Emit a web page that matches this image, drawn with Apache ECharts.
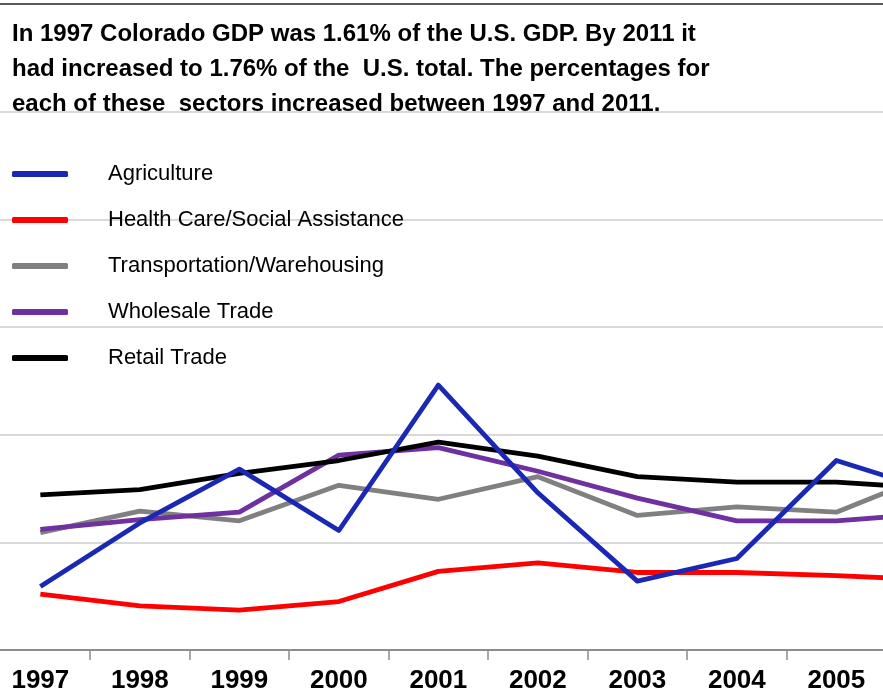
<!DOCTYPE html>
<html>
<head>
<meta charset="utf-8">
<script src="https://cdn.jsdelivr.net/npm/echarts@6/dist/echarts.min.js"></script>
<style>
  html, body { margin: 0; padding: 0; background: #fff; overflow: hidden; }
  body { width: 883px; height: 695px; position: relative; }
  /* the picture is a crop of a wider chart: the canvas starts a little left of the window and runs past its right edge */
  #chart { position: absolute; left: -10px; top: 0; width: 1000px; height: 695px; }
</style>
</head>
<body>
<div id="chart"></div>
<script>
  // years on the category axis (2006 only shows as the segment leaving the right edge)
  const years = ['1997', '1998', '1999', '2000', '2001', '2002', '2003', '2004', '2005', '2006'];

  // Colorado share of U.S. sector GDP (%)
  const agriculture    = [1.259, 1.318, 1.368, 1.311, 1.446, 1.346, 1.264, 1.285, 1.376, 1.347];
  const healthCare     = [1.252, 1.241, 1.237, 1.245, 1.273, 1.281, 1.272, 1.272, 1.269, 1.265];
  const transportation = [1.309, 1.329, 1.320, 1.353, 1.340, 1.361, 1.325, 1.333, 1.328, 1.365];
  const wholesale      = [1.312, 1.321, 1.328, 1.381, 1.388, 1.366, 1.341, 1.320, 1.320, 1.327];
  const retail         = [1.344, 1.349, 1.364, 1.376, 1.393, 1.380, 1.361, 1.356, 1.356, 1.350];

  const titleText = 'In 1997 Colorado GDP was 1.61% of the U.S. GDP. By 2011 it\n' +
    'had increased to 1.76% of the  U.S. total. The percentages for\n' +
    'each of these  sectors increased between 1997 and 2011.';

  const sans = '"Liberation Sans", Arial, sans-serif';

  function lineSeries(name, data, color, z) {
    return {
      name: name,
      type: 'line',
      data: data,
      showSymbol: false,
      z: z,
      lineStyle: { color: color, width: 4.8, join: 'round' },
      itemStyle: { color: color }
    };
  }

  const myChart = echarts.init(document.getElementById('chart'));
  const option = {
    animation: false,
    title: {
      text: titleText,
      left: 22,
      top: 17,
      padding: 0,
      textStyle: {
        fontFamily: sans,
        fontWeight: 'bold',
        fontSize: 24,
        lineHeight: 35,
        color: '#000'
      }
    },
    legend: {
      orient: 'vertical',
      left: 22,
      top: 151,
      padding: 0,
      itemGap: 0,
      itemWidth: 56,
      itemHeight: 6,
      icon: 'roundRect',
      data: ['Agriculture', 'Health Care/Social Assistance', 'Transportation/Warehousing', 'Wholesale Trade', 'Retail Trade'],
      textStyle: {
        fontFamily: sans,
        fontSize: 22,
        lineHeight: 46,
        color: '#000',
        padding: [0, 0, 0, 35]
      }
    },
    grid: {
      left: 0.6,
      right: 4.4,
      top: 4,
      bottom: 45
    },
    xAxis: [
      {
        type: 'category',
        data: years,
        boundaryGap: true,
        axisLine: { lineStyle: { color: '#8c8c8c', width: 2 } },
        axisTick: { show: true, length: 10, lineStyle: { color: '#8c8c8c', width: 1.5 } },
        axisLabel: {
          interval: 0,
          fontFamily: sans,
          fontWeight: 'bold',
          fontSize: 26,
          color: '#000',
          margin: 18
        }
      },
      {
        type: 'category',
        data: years,
        position: 'top',
        axisLine: { lineStyle: { color: '#595959', width: 2 } },
        axisTick: { show: false },
        axisLabel: { show: false }
      }
    ],
    yAxis: {
      type: 'value',
      min: 1.2,
      max: 1.8,
      interval: 0.1,
      axisLine: { show: false },
      axisTick: { show: false },
      axisLabel: { show: false },
      splitLine: { lineStyle: { color: '#d9d9d9', width: 2 } }
    },
    series: [
      lineSeries('Agriculture', agriculture, '#1a28b4', 6),
      lineSeries('Health Care/Social Assistance', healthCare, '#ff0000', 2),
      lineSeries('Transportation/Warehousing', transportation, '#808080', 3),
      lineSeries('Wholesale Trade', wholesale, '#7030a0', 4),
      lineSeries('Retail Trade', retail, '#000000', 5)
    ]
  };
  myChart.setOption(option);
</script>
</body>
</html>
